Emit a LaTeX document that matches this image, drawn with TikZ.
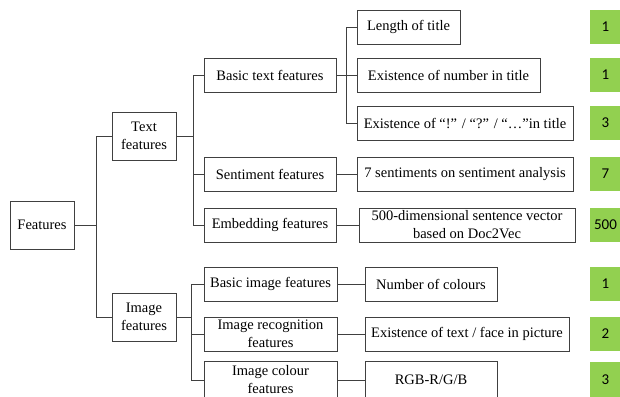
\documentclass[tikz,border=0pt]{standalone}
\usepackage{fontspec}
\setmainfont{Liberation Serif}
\newfontfamily\numfont{Carlito}
\usetikzlibrary{shadows}
\definecolor{linegray}{HTML}{404040}
\definecolor{numgreen}{HTML}{92D050}
\tikzset{
  fbox/.style={draw=linegray, line width=0.8pt, fill=white, inner sep=0pt, align=center,
    minimum height=34, font=\fontsize{14.5}{18}\selectfont,
    drop shadow={shadow xshift=1pt, shadow yshift=-1pt, opacity=0.35, fill=gray}},
  gbox/.style={fill=numgreen, draw=none, inner sep=0pt, minimum width=31, minimum height=34,
    font=\numfont\fontsize{15}{17}\selectfont},
  conn/.style={draw=linegray, line width=0.8pt}
}
\begin{document}
\begin{tikzpicture}[x=1pt,y=-1pt]
\path[use as bounding box, clip] (0,0) rectangle (620,396);
\fill[white] (0,0) rectangle (620,396);
% level 1
\node[fbox, minimum width=64, minimum height=48] (feat) at (42,225) {Features};
% level 2
\node[fbox, minimum width=64, minimum height=48] (textf) at (144,136) {Text\\features};
\node[fbox, minimum width=64, minimum height=48] (imgf) at (144,317) {Image\\features};
% level 3
\node[fbox, minimum width=132] (btf) at (270,75) {Basic text features};
\node[fbox, minimum width=132] (sent) at (270,174) {Sentiment features};
\node[fbox, minimum width=132] (emb) at (270,225) {Embedding features};
\node[fbox, minimum width=133] (bif) at (270.5,284) {Basic image features};
\node[fbox, minimum width=133] (irf) at (270.5,334) {Image recognition\\features};
\node[fbox, minimum width=133, minimum height=37] (icf) at (270.5,380) {Image colour\\features};
% level 4
\node[fbox, minimum width=103] (lot) at (408.5,27) {Length of title};
\node[fbox, minimum width=183] (eni) at (448.5,75) {Existence of number in title};
\node[fbox, minimum width=216] (eoe) at (465,123) {Existence of “!” / “?” / “…”in title};
\node[fbox, minimum width=216] (sev) at (465,174) {7 sentiments on sentiment analysis};
\node[fbox, minimum width=216] (vec) at (467,225) {500-dimensional sentence vector\\based on Doc2Vec};
\node[fbox, minimum width=132] (noc) at (431,284) {Number of colours};
\node[fbox, minimum width=204] (etf) at (467,334) {Existence of text / face in picture};
\node[fbox, minimum width=132, minimum height=37] (rgb) at (431,380) {RGB-R/G/B};
% counts
\node[gbox] (n1) at (605.5,27) {1};
\node[gbox] (n2) at (605.5,75) {1};
\node[gbox] (n3) at (605.5,123) {3};
\node[gbox] (n4) at (605.5,174) {7};
\node[gbox] (n5) at (605.5,225) {500};
\node[gbox] (n6) at (605.5,284) {1};
\node[gbox] (n7) at (605.5,334) {2};
\node[gbox, minimum height=37] (n8) at (605.5,380) {3};
% junctions
\coordinate (j1) at (96,225);
\coordinate (j2) at (193,136);
\coordinate (j3) at (191,317);
\coordinate (j4) at (346,75);
% connectors
\draw[conn] (feat.east) -- (j1);
\draw[conn] (j1) |- (textf.west);
\draw[conn] (j1) |- (imgf.west);
\draw[conn] (textf.east) -- (j2);
\draw[conn] (j2) |- (btf.west);
\draw[conn] (j2) |- (sent.west);
\draw[conn] (j2) |- (emb.west);
\draw[conn] (imgf.east) -- (j3);
\draw[conn] (j3) |- (bif.west);
\draw[conn] (j3) |- (irf.west);
\draw[conn] (j3) |- (icf.west);
\draw[conn] (btf.east) -- (j4);
\draw[conn] (j4) |- (lot.west);
\draw[conn] (j4) |- (eni.west);
\draw[conn] (j4) |- (eoe.west);
\draw[conn] (sent.east) -- (sev.west);
\draw[conn] (emb.east) -- (vec.west);
\draw[conn] (bif.east) -- (noc.west);
\draw[conn] (irf.east) -- (etf.west);
\draw[conn] (icf.east) -- (rgb.west);
\end{tikzpicture}
\end{document}
